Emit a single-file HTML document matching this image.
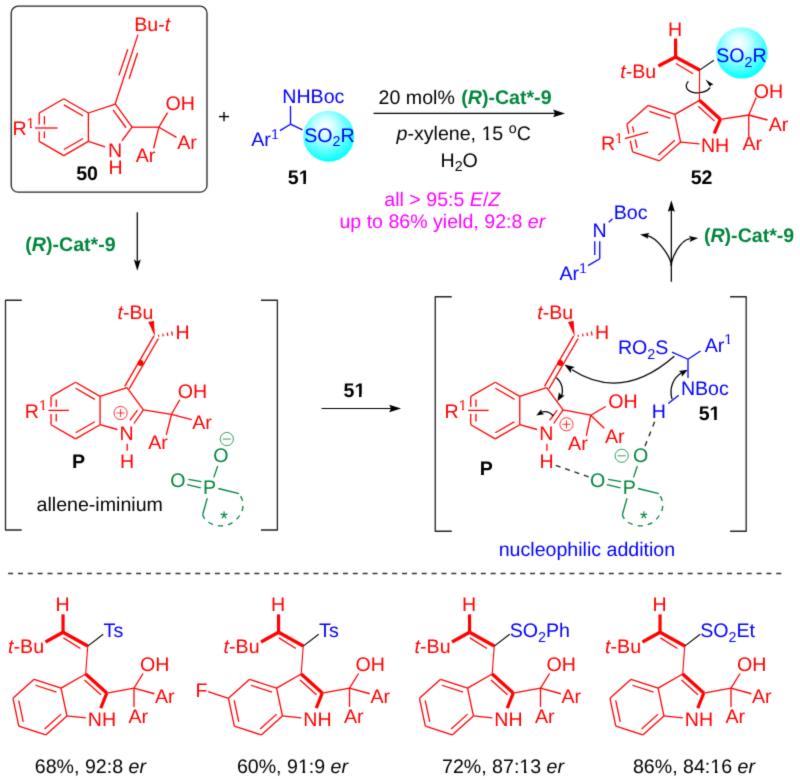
<!DOCTYPE html>
<html><head><meta charset="utf-8"><style>
html,body{margin:0;padding:0;background:#fff;}
svg{display:block;font-family:"Liberation Sans",sans-serif;text-rendering:geometricPrecision;}
</style></head><body>
<svg width="800" height="784" viewBox="0 0 800 784"><defs><filter id="soft" filterUnits="userSpaceOnUse" x="0" y="0" width="800" height="784" color-interpolation-filters="sRGB"><feConvolveMatrix order="3" kernelMatrix="0.0144 0.0912 0.0144 0.0912 0.5776 0.0912 0.0144 0.0912 0.0144" edgeMode="none" preserveAlpha="false"/></filter></defs><g style="will-change:transform" filter="url(#soft)">
<rect x="11.2" y="6.2" width="195.8" height="186" rx="7" fill="none" stroke="#222" stroke-width="1.3"/>
<line x1="63.80" y1="98.80" x2="88.40" y2="113.00" stroke="#ff0000" stroke-width="1.3"/>
<line x1="63.89" y1="104.85" x2="83.12" y2="115.95" stroke="#ff0000" stroke-width="1.3"/>
<line x1="88.40" y1="113.00" x2="88.40" y2="141.40" stroke="#ff0000" stroke-width="1.3"/>
<line x1="88.40" y1="141.40" x2="63.80" y2="155.60" stroke="#ff0000" stroke-width="1.3"/>
<line x1="83.12" y1="138.45" x2="63.89" y2="149.55" stroke="#ff0000" stroke-width="1.3"/>
<line x1="63.80" y1="155.60" x2="39.21" y2="141.40" stroke="#ff0000" stroke-width="1.3"/>
<line x1="39.21" y1="141.40" x2="39.21" y2="113.00" stroke="#ff0000" stroke-width="1.3"/>
<line x1="44.41" y1="138.30" x2="44.41" y2="116.10" stroke="#ff0000" stroke-width="1.3"/>
<line x1="39.21" y1="113.00" x2="63.80" y2="98.80" stroke="#ff0000" stroke-width="1.3"/>
<line x1="35" y1="128" x2="57.5" y2="128" stroke="#fff" stroke-width="7"/>
<line x1="35.00" y1="128.00" x2="57.50" y2="128.00" stroke="#ff0000" stroke-width="1.3"/>
<line x1="88.40" y1="113.00" x2="115.41" y2="104.22" stroke="#f00" stroke-width="1.3"/>
<line x1="115.41" y1="104.22" x2="132.10" y2="127.20" stroke="#f00" stroke-width="1.3"/>
<line x1="113.03" y1="109.79" x2="126.07" y2="127.75" stroke="#f00" stroke-width="1.3"/>
<line x1="132.10" y1="127.20" x2="121.93" y2="140.75" stroke="#f00" stroke-width="1.3"/>
<line x1="88.40" y1="141.40" x2="105.11" y2="146.89" stroke="#f00" stroke-width="1.3"/>
<text x="108.00" y="156.80" fill="#ff0000" font-size="19.6"><tspan>N</tspan></text>
<text x="108.40" y="173.70" fill="#ff0000" font-size="19.6"><tspan>H</tspan></text>
<line x1="115.05" y1="104.30" x2="138.00" y2="34.60" stroke="#ff0000" stroke-width="1.3"/>
<line x1="118.90" y1="75.40" x2="127.80" y2="49.20" stroke="#ff0000" stroke-width="1.3"/>
<line x1="129.10" y1="78.80" x2="137.60" y2="52.70" stroke="#ff0000" stroke-width="1.3"/>
<text x="134.30" y="31.00" fill="#ff0000" font-size="19.6"><tspan>Bu-</tspan><tspan font-style="italic">t</tspan></text>
<line x1="131.90" y1="127.20" x2="158.90" y2="127.20" stroke="#ff0000" stroke-width="1.3"/>
<line x1="158.90" y1="127.20" x2="167.60" y2="112.70" stroke="#ff0000" stroke-width="1.3"/>
<line x1="158.90" y1="127.20" x2="176.50" y2="137.40" stroke="#ff0000" stroke-width="1.3"/>
<line x1="158.90" y1="127.20" x2="153.60" y2="148.40" stroke="#ff0000" stroke-width="1.3"/>
<text x="165.40" y="109.50" fill="#ff0000" font-size="19.6"><tspan>OH</tspan></text>
<text x="177.20" y="148.80" fill="#ff0000" font-size="19.6"><tspan>Ar</tspan></text>
<text x="135.70" y="161.80" fill="#ff0000" font-size="19.6"><tspan>Ar</tspan></text>
<text x="12.40" y="135.30" fill="#ff0000" font-size="19.6"><tspan>R</tspan><tspan font-size="14.3" dy="-7.40">1</tspan></text>
<text x="76.20" y="179.80" fill="#000" font-size="19.6"><tspan font-weight="bold">50</tspan></text>
<line x1="219.00" y1="116.60" x2="229.00" y2="116.60" stroke="#000" stroke-width="1.4"/>
<line x1="224.00" y1="111.90" x2="224.00" y2="121.30" stroke="#000" stroke-width="1.4"/>
<defs>
<radialGradient id="sph" cx="0.45" cy="0.38" r="0.62" fx="0.43" fy="0.3">
<stop offset="0" stop-color="#ffffff"/><stop offset="0.3" stop-color="#d0ffff"/><stop offset="0.75" stop-color="#50ffff"/><stop offset="1" stop-color="#00ffff"/>
</radialGradient></defs>
<circle cx="328.7" cy="136.3" r="25.5" fill="url(#sph)"/>
<line x1="290.50" y1="124.20" x2="290.50" y2="106.00" stroke="#0000ff" stroke-width="1.3"/>
<line x1="290.50" y1="124.20" x2="280.00" y2="130.60" stroke="#0000ff" stroke-width="1.3"/>
<line x1="290.50" y1="124.20" x2="302.50" y2="129.90" stroke="#0000ff" stroke-width="1.3"/>
<text x="282.30" y="103.00" fill="#0000ff" font-size="19.6"><tspan>NHBoc</tspan></text>
<text x="251.30" y="145.90" fill="#0000ff" font-size="19.6"><tspan>Ar</tspan><tspan font-size="14.3" dy="-7.40">1</tspan></text>
<text x="304.20" y="141.80" fill="#0000ff" font-size="19.6"><tspan>SO</tspan><tspan font-size="14.3" dy="4.60">2</tspan><tspan dy="-4.60">R</tspan></text>
<text x="287.80" y="184.00" fill="#000" font-size="19.6"><tspan font-weight="bold">51</tspan></text>
<line x1="373.50" y1="113.40" x2="556.00" y2="113.40" stroke="#000" stroke-width="1.2"/>
<polygon points="565.00,113.40 553.10,109.50 555.00,113.40 553.10,117.30" fill="#000"/>
<text x="378.60" y="104.00" fill="#000" font-size="19.6"><tspan>20 mol% </tspan></text>

<text x="461.20" y="104" fill="#00853d" font-size="19.6" font-weight="bold">(<tspan font-style="italic">R</tspan>)-Cat*-9</text>
<text x="396.50" y="140.10" fill="#000" font-size="19.6"><tspan font-style="italic">p</tspan><tspan>-xylene, 15 </tspan><tspan font-size="14.3" dy="-7.40">o</tspan><tspan dy="7.40">C</tspan></text>
<text x="440.50" y="166.80" fill="#000" font-size="19.6"><tspan>H</tspan><tspan font-size="14.3" dy="4.60">2</tspan><tspan dy="-4.60">O</tspan></text>
<text x="384.30" y="206.20" fill="#ff00ff" font-size="19.6"><tspan>all &gt; 95:5 </tspan><tspan font-style="italic">E</tspan><tspan>/</tspan><tspan font-style="italic">Z</tspan></text>
<text x="339.40" y="227.50" fill="#ff00ff" font-size="19.6"><tspan>up to 86% yield, 92:8 </tspan><tspan font-style="italic">er</tspan></text>
<circle cx="741.8" cy="52.9" r="25.7" fill="url(#sph)"/>
<line x1="648.00" y1="105.45" x2="674.87" y2="114.34" stroke="#ff0000" stroke-width="1.3"/>
<line x1="649.31" y1="111.36" x2="670.29" y2="118.30" stroke="#ff0000" stroke-width="1.3"/>
<line x1="674.87" y1="114.34" x2="680.61" y2="142.05" stroke="#ff0000" stroke-width="1.3"/>
<line x1="680.61" y1="142.05" x2="659.48" y2="160.88" stroke="#ff0000" stroke-width="1.3"/>
<line x1="674.84" y1="140.23" x2="658.33" y2="154.93" stroke="#ff0000" stroke-width="1.3"/>
<line x1="659.48" y1="160.88" x2="632.61" y2="151.99" stroke="#ff0000" stroke-width="1.3"/>
<line x1="632.61" y1="151.99" x2="626.87" y2="124.28" stroke="#ff0000" stroke-width="1.3"/>
<line x1="637.07" y1="147.90" x2="632.59" y2="126.26" stroke="#ff0000" stroke-width="1.3"/>
<line x1="626.87" y1="124.28" x2="648.00" y2="105.45" stroke="#ff0000" stroke-width="1.3"/>
<line x1="624.8" y1="138.7" x2="648.2" y2="132.1" stroke="#fff" stroke-width="7"/>
<line x1="624.80" y1="138.70" x2="648.20" y2="132.10" stroke="#ff0000" stroke-width="1.3"/>
<line x1="674.87" y1="114.34" x2="699.45" y2="100.32" stroke="#f00" stroke-width="1.3"/>
<line x1="699.45" y1="100.32" x2="720.38" y2="119.36" stroke="#ff0000" stroke-width="3.4"/>
<line x1="698.25" y1="106.25" x2="714.59" y2="121.12" stroke="#f00" stroke-width="1.3"/>
<line x1="720.38" y1="119.36" x2="714.20" y2="133.50" stroke="#ff0000" stroke-width="3.2"/>
<line x1="680.61" y1="142.05" x2="699.50" y2="143.80" stroke="#ff0000" stroke-width="1.3"/>
<text x="700.90" y="152.00" fill="#ff0000" font-size="19.6"><tspan>NH</tspan></text>
<text x="600.90" y="150.20" fill="#ff0000" font-size="19.6"><tspan>R</tspan><tspan font-size="14.3" dy="-7.40">1</tspan></text>
<line x1="720.38" y1="119.36" x2="748.75" y2="115.00" stroke="#ff0000" stroke-width="1.3"/>
<line x1="748.75" y1="115.00" x2="756.25" y2="97.50" stroke="#ff0000" stroke-width="1.3"/>
<line x1="748.75" y1="115.00" x2="767.50" y2="120.00" stroke="#ff0000" stroke-width="1.3"/>
<line x1="748.75" y1="115.00" x2="748.75" y2="136.25" stroke="#ff0000" stroke-width="1.3"/>
<text x="753.70" y="97.90" fill="#ff0000" font-size="19.6"><tspan>OH</tspan></text>
<text x="768.75" y="130.50" fill="#ff0000" font-size="19.6"><tspan>Ar</tspan></text>
<text x="742.50" y="150.30" fill="#ff0000" font-size="19.6"><tspan>Ar</tspan></text>
<path d="M688.4,81.3 C684.5,85.5 686,90.5 693,92.3 C699,93.8 707,92 710.2,87.6" fill="none" stroke="#000" stroke-width="1.2"/>
<polygon points="705.50,79.50 713.40,84.40 710.90,85.20 710.10,86.90" fill="#000"/>
<line x1="699.60" y1="70.10" x2="699.45" y2="100.32" stroke="#ff0000" stroke-width="1.1"/>
<line x1="675.60" y1="57.10" x2="699.60" y2="70.10" stroke="#ff0000" stroke-width="3.4"/>
<line x1="676.00" y1="63.50" x2="693.10" y2="73.70" stroke="#ff0000" stroke-width="1.3"/>
<line x1="675.60" y1="57.10" x2="675.60" y2="38.60" stroke="#ff0000" stroke-width="3.2"/>
<line x1="675.60" y1="57.10" x2="658.40" y2="66.00" stroke="#ff0000" stroke-width="3.4"/>
<line x1="699.60" y1="70.10" x2="713.90" y2="60.30" stroke="#000" stroke-width="1.1"/>
<text x="668.00" y="35.60" fill="#ff0000" font-size="19.6"><tspan>H</tspan></text>
<text x="620.30" y="77.60" fill="#ff0000" font-size="19.6"><tspan font-style="italic">t</tspan><tspan>-Bu</tspan></text>
<text x="716.30" y="61.90" fill="#0000ff" font-size="19.6"><tspan>SO</tspan><tspan font-size="14.3" dy="4.60">2</tspan><tspan dy="-4.60">R</tspan></text>
<text x="690.65" y="184.00" fill="#000" font-size="19.6"><tspan font-weight="bold">52</tspan></text>
<line x1="137.30" y1="212.20" x2="137.30" y2="262.00" stroke="#000" stroke-width="1.25"/>
<polygon points="137.30,270.70 133.80,259.30 137.30,261.75 140.80,259.30" fill="#000"/>
<text x="25.30" y="250.6" fill="#00853d" font-size="19.6" font-weight="bold">(<tspan font-style="italic">R</tspan>)-Cat*-9</text>
<path d="M21.75,300.25 H5.5 V530 H21.75" fill="none" stroke="#222" stroke-width="1.3" stroke-linejoin="round"/>
<path d="M261.0,300.25 H277.4 V530 H261.0" fill="none" stroke="#222" stroke-width="1.3" stroke-linejoin="round"/>
<line x1="75.55" y1="382.25" x2="100.06" y2="396.40" stroke="#ff0000" stroke-width="1.3"/>
<line x1="75.64" y1="388.30" x2="94.78" y2="399.35" stroke="#ff0000" stroke-width="1.3"/>
<line x1="100.06" y1="396.40" x2="100.06" y2="424.70" stroke="#ff0000" stroke-width="1.3"/>
<line x1="100.06" y1="424.70" x2="75.55" y2="438.85" stroke="#ff0000" stroke-width="1.3"/>
<line x1="94.78" y1="421.75" x2="75.64" y2="432.80" stroke="#ff0000" stroke-width="1.3"/>
<line x1="75.55" y1="438.85" x2="51.04" y2="424.70" stroke="#ff0000" stroke-width="1.3"/>
<line x1="51.04" y1="424.70" x2="51.04" y2="396.40" stroke="#ff0000" stroke-width="1.3"/>
<line x1="56.24" y1="421.60" x2="56.24" y2="399.50" stroke="#ff0000" stroke-width="1.3"/>
<line x1="51.04" y1="396.40" x2="75.55" y2="382.25" stroke="#ff0000" stroke-width="1.3"/>
<line x1="48.5" y1="410.4" x2="68.9" y2="410.4" stroke="#fff" stroke-width="7"/>
<line x1="48.50" y1="410.40" x2="68.90" y2="410.40" stroke="#ff0000" stroke-width="1.3"/>
<line x1="100.06" y1="396.40" x2="126.97" y2="387.65" stroke="#f00" stroke-width="1.3"/>
<line x1="143.40" y1="409.95" x2="134.00" y2="423.50" stroke="#ff0000" stroke-width="1.3"/>
<line x1="137.55" y1="410.20" x2="129.90" y2="420.40" stroke="#ff0000" stroke-width="1.3"/>
<line x1="100.06" y1="424.70" x2="117.40" y2="429.50" stroke="#ff0000" stroke-width="1.3"/>
<line x1="126.97" y1="387.65" x2="143.40" y2="409.95" stroke="#ff0000" stroke-width="1.3"/>
<text x="119.60" y="439.80" fill="#ff0000" font-size="19.6"><tspan>N</tspan></text>
<line x1="127.20" y1="443.70" x2="127.20" y2="450.75" stroke="#ff0000" stroke-width="1.3"/>
<text x="119.90" y="467.70" fill="#ff0000" font-size="19.6"><tspan>H</tspan></text>
<line x1="129.18" y1="388.93" x2="158.41" y2="338.48" stroke="#ff0000" stroke-width="1.3"/>
<line x1="124.77" y1="386.38" x2="153.99" y2="335.92" stroke="#ff0000" stroke-width="1.3"/>
<circle cx="140.60" cy="363.00" r="2.9" fill="#ff0000"/>
<polygon points="155.00,336.50 148.30,322.00 153.90,320.80" fill="#ff0000"/>
<line x1="158.74" y1="336.77" x2="158.42" y2="334.96" stroke="#ff0000" stroke-width="1.2"/>
<line x1="163.29" y1="336.37" x2="162.84" y2="333.77" stroke="#ff0000" stroke-width="1.2"/>
<line x1="167.84" y1="335.98" x2="167.25" y2="332.59" stroke="#ff0000" stroke-width="1.2"/>
<line x1="172.40" y1="335.58" x2="171.66" y2="331.40" stroke="#ff0000" stroke-width="1.2"/>
<text x="117.50" y="318.90" fill="#ff0000" font-size="19.6"><tspan font-style="italic">t</tspan><tspan>-Bu</tspan></text>
<text x="175.40" y="338.70" fill="#ff0000" font-size="19.6"><tspan>H</tspan></text>
<text x="24.80" y="417.80" fill="#ff0000" font-size="19.6"><tspan>R</tspan><tspan font-size="14.3" dy="-7.40">1</tspan></text>
<text x="213.25" y="462.30" fill="#00853d" font-size="19.6"><tspan>O</tspan></text>
<text x="203.10" y="494.20" fill="#00853d" font-size="19.6"><tspan>P</tspan></text>
<text x="170.30" y="486.50" fill="#00853d" font-size="19.6"><tspan>O</tspan></text>
<line x1="217.70" y1="466.00" x2="213.80" y2="477.40" stroke="#00853d" stroke-width="1.3"/>
<line x1="188.40" y1="479.40" x2="201.40" y2="481.60" stroke="#00853d" stroke-width="1.3"/>
<line x1="187.10" y1="484.60" x2="200.80" y2="487.80" stroke="#00853d" stroke-width="1.3"/>
<line x1="218.30" y1="488.50" x2="239.10" y2="493.70" stroke="#00853d" stroke-width="1.3"/>
<line x1="207.30" y1="498.20" x2="202.70" y2="514.50" stroke="#00853d" stroke-width="1.3"/>
<path d="M202.70,514.30 C203.80,521.50 212.50,525.60 221.00,525.90 C232.00,525.80 240.00,518.00 242.60,509.00 C243.80,503.00 242.00,497.50 239.30,494.30" fill="none" stroke="#00853d" stroke-width="1.35" stroke-dasharray="5 5.1"/>
<text x="220.30" y="524.50" fill="#00853d" font-size="19.6">*</text>
<text x="72.10" y="467.80" fill="#000" font-size="19.6"><tspan font-weight="bold">P</tspan></text>
<circle cx="120.6" cy="413" r="6.6" fill="none" stroke="#ff0000" stroke-width="0.8"/>
<line x1="116.60" y1="413.00" x2="124.60" y2="413.00" stroke="#ff0000" stroke-width="0.8"/>
<line x1="120.60" y1="409.00" x2="120.60" y2="417.00" stroke="#ff0000" stroke-width="0.8"/>
<circle cx="226.8" cy="439.05" r="6.6" fill="none" stroke="#00853d" stroke-width="0.8"/>
<line x1="222.80" y1="439.05" x2="230.80" y2="439.05" stroke="#00853d" stroke-width="0.8"/>
<line x1="143.40" y1="409.95" x2="171.50" y2="414.30" stroke="#ff0000" stroke-width="1.3"/>
<line x1="171.50" y1="414.30" x2="179.75" y2="399.75" stroke="#ff0000" stroke-width="1.3"/>
<line x1="171.50" y1="414.30" x2="191.75" y2="419.70" stroke="#ff0000" stroke-width="1.3"/>
<line x1="171.50" y1="414.30" x2="166.25" y2="435.00" stroke="#ff0000" stroke-width="1.3"/>
<text x="177.80" y="397.80" fill="#ff0000" font-size="19.6"><tspan>OH</tspan></text>
<text x="192.20" y="428.50" fill="#ff0000" font-size="19.6"><tspan>Ar</tspan></text>
<text x="148.25" y="448.80" fill="#ff0000" font-size="19.6"><tspan>Ar</tspan></text>
<text x="36.55" y="510.90" fill="#000" font-size="19.6"><tspan>allene-iminium</tspan></text>
<line x1="321.50" y1="408.50" x2="392.00" y2="408.50" stroke="#000" stroke-width="1.2"/>
<polygon points="401.10,408.50 389.20,404.70 391.00,408.50 389.20,412.30" fill="#000"/>
<text x="343.50" y="396.90" fill="#000" font-size="19.6"><tspan font-weight="bold">51</tspan></text>
<path d="M451.75,296.75 H435.25 V531.25 H451.75" fill="none" stroke="#222" stroke-width="1.3" stroke-linejoin="round"/>
<path d="M730.1,296.75 H746.2 V531.25 H730.1" fill="none" stroke="#222" stroke-width="1.3" stroke-linejoin="round"/>
<line x1="495.25" y1="382.25" x2="519.76" y2="396.40" stroke="#ff0000" stroke-width="1.3"/>
<line x1="495.34" y1="388.30" x2="514.48" y2="399.35" stroke="#ff0000" stroke-width="1.3"/>
<line x1="519.76" y1="396.40" x2="519.76" y2="424.70" stroke="#ff0000" stroke-width="1.3"/>
<line x1="519.76" y1="424.70" x2="495.25" y2="438.85" stroke="#ff0000" stroke-width="1.3"/>
<line x1="514.48" y1="421.75" x2="495.34" y2="432.80" stroke="#ff0000" stroke-width="1.3"/>
<line x1="495.25" y1="438.85" x2="470.74" y2="424.70" stroke="#ff0000" stroke-width="1.3"/>
<line x1="470.74" y1="424.70" x2="470.74" y2="396.40" stroke="#ff0000" stroke-width="1.3"/>
<line x1="475.94" y1="421.60" x2="475.94" y2="399.50" stroke="#ff0000" stroke-width="1.3"/>
<line x1="470.74" y1="396.40" x2="495.25" y2="382.25" stroke="#ff0000" stroke-width="1.3"/>
<line x1="468.2" y1="410.4" x2="488.6" y2="410.4" stroke="#fff" stroke-width="7"/>
<line x1="468.20" y1="410.40" x2="488.60" y2="410.40" stroke="#ff0000" stroke-width="1.3"/>
<line x1="519.76" y1="396.40" x2="546.67" y2="387.65" stroke="#f00" stroke-width="1.3"/>
<line x1="563.10" y1="409.95" x2="553.70" y2="423.50" stroke="#ff0000" stroke-width="1.3"/>
<line x1="557.25" y1="410.20" x2="549.60" y2="420.40" stroke="#ff0000" stroke-width="1.3"/>
<line x1="519.76" y1="424.70" x2="537.10" y2="429.50" stroke="#ff0000" stroke-width="1.3"/>
<line x1="546.67" y1="387.65" x2="563.10" y2="409.95" stroke="#ff0000" stroke-width="1.3"/>
<text x="539.30" y="439.80" fill="#ff0000" font-size="19.6"><tspan>N</tspan></text>
<line x1="546.90" y1="443.70" x2="546.90" y2="450.75" stroke="#ff0000" stroke-width="1.3"/>
<text x="539.60" y="467.70" fill="#ff0000" font-size="19.6"><tspan>H</tspan></text>
<line x1="548.88" y1="388.93" x2="578.11" y2="338.48" stroke="#ff0000" stroke-width="1.3"/>
<line x1="544.47" y1="386.38" x2="573.69" y2="335.92" stroke="#ff0000" stroke-width="1.3"/>
<circle cx="560.30" cy="363.00" r="2.9" fill="#ff0000"/>
<polygon points="574.70,336.50 568.00,322.00 573.60,320.80" fill="#ff0000"/>
<line x1="578.44" y1="336.77" x2="578.12" y2="334.96" stroke="#ff0000" stroke-width="1.2"/>
<line x1="582.99" y1="336.37" x2="582.54" y2="333.77" stroke="#ff0000" stroke-width="1.2"/>
<line x1="587.54" y1="335.98" x2="586.95" y2="332.59" stroke="#ff0000" stroke-width="1.2"/>
<line x1="592.10" y1="335.58" x2="591.36" y2="331.40" stroke="#ff0000" stroke-width="1.2"/>
<text x="537.20" y="318.90" fill="#ff0000" font-size="19.6"><tspan font-style="italic">t</tspan><tspan>-Bu</tspan></text>
<text x="595.10" y="338.70" fill="#ff0000" font-size="19.6"><tspan>H</tspan></text>
<text x="444.50" y="417.80" fill="#ff0000" font-size="19.6"><tspan>R</tspan><tspan font-size="14.3" dy="-7.40">1</tspan></text>
<text x="632.95" y="462.30" fill="#00853d" font-size="19.6"><tspan>O</tspan></text>
<text x="622.80" y="494.20" fill="#00853d" font-size="19.6"><tspan>P</tspan></text>
<text x="590.00" y="486.50" fill="#00853d" font-size="19.6"><tspan>O</tspan></text>
<line x1="637.40" y1="466.00" x2="633.50" y2="477.40" stroke="#00853d" stroke-width="1.3"/>
<line x1="608.10" y1="479.40" x2="621.10" y2="481.60" stroke="#00853d" stroke-width="1.3"/>
<line x1="606.80" y1="484.60" x2="620.50" y2="487.80" stroke="#00853d" stroke-width="1.3"/>
<line x1="638.00" y1="488.50" x2="658.80" y2="493.70" stroke="#00853d" stroke-width="1.3"/>
<line x1="627.00" y1="498.20" x2="622.40" y2="514.50" stroke="#00853d" stroke-width="1.3"/>
<path d="M622.40,514.30 C623.50,521.50 632.20,525.60 640.70,525.90 C651.70,525.80 659.70,518.00 662.30,509.00 C663.50,503.00 661.70,497.50 659.00,494.30" fill="none" stroke="#00853d" stroke-width="1.35" stroke-dasharray="5 5.1"/>
<text x="640.00" y="524.50" fill="#00853d" font-size="19.6">*</text>
<text x="479.80" y="475.00" fill="#000" font-size="19.6"><tspan font-weight="bold">P</tspan></text>
<circle cx="566.5" cy="424.3" r="6.6" fill="none" stroke="#ff0000" stroke-width="0.8"/>
<line x1="562.50" y1="424.30" x2="570.50" y2="424.30" stroke="#ff0000" stroke-width="0.8"/>
<line x1="566.50" y1="420.30" x2="566.50" y2="428.30" stroke="#ff0000" stroke-width="0.8"/>
<circle cx="621.7" cy="455.8" r="6.6" fill="none" stroke="#00853d" stroke-width="0.8"/>
<line x1="617.70" y1="455.80" x2="625.70" y2="455.80" stroke="#00853d" stroke-width="0.8"/>
<line x1="563.10" y1="409.95" x2="590.75" y2="415.20" stroke="#ff0000" stroke-width="1.3"/>
<line x1="590.75" y1="415.20" x2="605.75" y2="406.50" stroke="#ff0000" stroke-width="1.3"/>
<line x1="590.75" y1="415.20" x2="604.25" y2="428.25" stroke="#ff0000" stroke-width="1.3"/>
<line x1="590.75" y1="415.20" x2="586.25" y2="435.75" stroke="#ff0000" stroke-width="1.3"/>
<text x="608.30" y="407.90" fill="#ff0000" font-size="19.6"><tspan>OH</tspan></text>
<text x="604.90" y="442.50" fill="#ff0000" font-size="19.6"><tspan>Ar</tspan></text>
<text x="568.10" y="449.50" fill="#ff0000" font-size="19.6"><tspan>Ar</tspan></text>
<line x1="672.00" y1="352.20" x2="688.00" y2="359.25" stroke="#0000ff" stroke-width="1.3"/>
<line x1="688.00" y1="359.25" x2="700.50" y2="351.00" stroke="#0000ff" stroke-width="1.3"/>
<line x1="688.00" y1="359.25" x2="688.00" y2="378.00" stroke="#0000ff" stroke-width="1.3"/>
<line x1="678.75" y1="395.25" x2="668.25" y2="403.50" stroke="#0000ff" stroke-width="1.3"/>
<text x="617.90" y="354.10" fill="#0000ff" font-size="19.6"><tspan>RO</tspan><tspan font-size="14.3" dy="4.60">2</tspan><tspan dy="-4.60">S</tspan></text>
<text x="704.70" y="351.60" fill="#0000ff" font-size="19.6"><tspan>Ar</tspan><tspan font-size="14.3" dy="-7.40">1</tspan></text>
<text x="680.90" y="394.90" fill="#0000ff" font-size="19.6"><tspan>NBoc</tspan></text>
<text x="651.65" y="417.70" fill="#0000ff" font-size="19.6"><tspan>H</tspan></text>
<text x="698.70" y="420.10" fill="#000" font-size="19.6"><tspan font-weight="bold">51</tspan></text>
<line x1="555.8" y1="465.4" x2="589.2" y2="477.0" stroke="#222" stroke-width="1.35" stroke-dasharray="5 4.9"/>
<line x1="654.6" y1="421.8" x2="644.3" y2="448" stroke="#222" stroke-width="1.35" stroke-dasharray="5 5.5"/>
<path d="M674.3,356.3 Q622,402 572,369.8" fill="none" stroke="#000" stroke-width="1.3"/>
<polygon points="564.40,364.50 574.73,367.00 571.24,369.02 570.76,373.01" fill="#000"/>
<path d="M672,399 C669,388 673,378 682,372.5" fill="none" stroke="#000" stroke-width="1.3"/>
<polygon points="687.75,369.75 681.84,376.65 681.62,373.12 678.76,371.04" fill="#000"/>
<path d="M556.3,377.7 C562,382 564,391 561,396.5" fill="none" stroke="#000" stroke-width="1.3"/>
<polygon points="557.40,401.20 558.94,392.21 561.00,395.20 564.60,395.61" fill="#000"/>
<path d="M553.2,416 C550,412 546,410.8 541,412.3" fill="none" stroke="#000" stroke-width="1.3"/>
<polygon points="536.30,415.60 541.19,409.17 541.62,412.41 544.27,414.31" fill="#000"/>
<text x="498.70" y="556.10" fill="#0000ff" font-size="19.6"><tspan>nucleophilic addition</tspan></text>
<line x1="599.75" y1="241.25" x2="599.75" y2="258.75" stroke="#0000ff" stroke-width="1.3"/>
<line x1="594.75" y1="241.25" x2="594.75" y2="255.00" stroke="#0000ff" stroke-width="1.3"/>
<line x1="608.75" y1="222.25" x2="612.50" y2="218.75" stroke="#0000ff" stroke-width="1.3"/>
<line x1="599.75" y1="258.75" x2="588.10" y2="265.60" stroke="#0000ff" stroke-width="1.3"/>
<text x="613.80" y="218.50" fill="#0000ff" font-size="19.6"><tspan>Boc</tspan></text>
<text x="592.40" y="237.40" fill="#0000ff" font-size="19.6"><tspan>N</tspan></text>
<text x="559.40" y="279.90" fill="#0000ff" font-size="19.6"><tspan>Ar</tspan><tspan font-size="14.3" dy="-7.40">1</tspan></text>
<line x1="671.35" y1="281.80" x2="671.35" y2="209.00" stroke="#000" stroke-width="1.25"/>
<polygon points="671.35,200.20 667.85,211.70 671.35,210.20 674.85,211.70" fill="#000"/>
<path d="M671.35,266 C671.35,258 658,237.2 646,235.4" fill="none" stroke="#000" stroke-width="1.3"/>
<polygon points="640.00,234.40 649.38,232.95 647.39,235.66 648.37,238.87" fill="#000"/>
<path d="M671.35,266 C671.35,258 680,240.2 690,238.6" fill="none" stroke="#000" stroke-width="1.3"/>
<polygon points="698.20,238.00 689.62,242.05 690.75,238.89 688.91,236.09" fill="#000"/>
<text x="703.90" y="242.4" fill="#00853d" font-size="19.6" font-weight="bold">(<tspan font-style="italic">R</tspan>)-Cat*-9</text>
<line x1="8.1" y1="573.5" x2="781.5" y2="573.5" stroke="#333" stroke-width="1.5" stroke-dasharray="5 4.848"/>
<line x1="34.09" y1="679.34" x2="61.08" y2="688.16" stroke="#ff0000" stroke-width="1.3"/>
<line x1="35.43" y1="685.25" x2="56.52" y2="692.14" stroke="#ff0000" stroke-width="1.3"/>
<line x1="61.08" y1="688.16" x2="66.93" y2="715.94" stroke="#ff0000" stroke-width="1.3"/>
<line x1="66.93" y1="715.94" x2="45.80" y2="734.90" stroke="#ff0000" stroke-width="1.3"/>
<line x1="61.15" y1="714.14" x2="44.64" y2="728.96" stroke="#ff0000" stroke-width="1.3"/>
<line x1="45.80" y1="734.90" x2="18.82" y2="726.08" stroke="#ff0000" stroke-width="1.3"/>
<line x1="18.82" y1="726.08" x2="12.96" y2="698.30" stroke="#ff0000" stroke-width="1.3"/>
<line x1="23.27" y1="721.97" x2="18.69" y2="700.26" stroke="#ff0000" stroke-width="1.3"/>
<line x1="12.96" y1="698.30" x2="34.09" y2="679.34" stroke="#ff0000" stroke-width="1.3"/>
<line x1="61.08" y1="688.16" x2="85.69" y2="674.01" stroke="#f00" stroke-width="1.3"/>
<line x1="85.69" y1="674.01" x2="106.76" y2="693.04" stroke="#ff0000" stroke-width="3.4"/>
<line x1="84.51" y1="679.94" x2="100.97" y2="694.82" stroke="#f00" stroke-width="1.3"/>
<line x1="106.76" y1="693.04" x2="100.75" y2="708.10" stroke="#ff0000" stroke-width="3.2"/>
<line x1="66.93" y1="715.94" x2="85.80" y2="717.80" stroke="#ff0000" stroke-width="1.3"/>
<text x="87.80" y="725.80" fill="#ff0000" font-size="19.6"><tspan>NH</tspan></text>
<line x1="106.76" y1="693.04" x2="134.00" y2="688.10" stroke="#ff0000" stroke-width="1.3"/>
<line x1="134.00" y1="688.10" x2="143.10" y2="673.50" stroke="#ff0000" stroke-width="1.3"/>
<line x1="134.00" y1="688.10" x2="154.40" y2="693.75" stroke="#ff0000" stroke-width="1.3"/>
<line x1="134.00" y1="688.10" x2="134.00" y2="706.90" stroke="#ff0000" stroke-width="1.3"/>
<text x="140.10" y="670.90" fill="#ff0000" font-size="19.6"><tspan>OH</tspan></text>
<text x="155.00" y="702.80" fill="#ff0000" font-size="19.6"><tspan>Ar</tspan></text>
<text x="128.50" y="722.90" fill="#ff0000" font-size="19.6"><tspan>Ar</tspan></text>
<line x1="87.75" y1="646.10" x2="85.69" y2="674.01" stroke="#ff0000" stroke-width="1.1"/>
<line x1="63.05" y1="632.25" x2="87.75" y2="646.10" stroke="#ff0000" stroke-width="3.4"/>
<line x1="63.40" y1="637.90" x2="80.40" y2="648.50" stroke="#ff0000" stroke-width="1.3"/>
<line x1="63.05" y1="632.25" x2="63.05" y2="614.40" stroke="#ff0000" stroke-width="3.2"/>
<line x1="63.05" y1="632.25" x2="45.50" y2="642.00" stroke="#ff0000" stroke-width="3.4"/>
<line x1="87.75" y1="646.10" x2="103.20" y2="634.20" stroke="#000" stroke-width="1.1"/>
<text x="55.60" y="610.60" fill="#ff0000" font-size="19.6"><tspan>H</tspan></text>
<text x="8.10" y="652.50" fill="#ff0000" font-size="19.6"><tspan font-style="italic">t</tspan><tspan>-Bu</tspan></text>
<text x="103.60" y="637.00" fill="#0000ff" font-size="19.6"><tspan>Ts</tspan></text>
<text x="34.80" y="773.00" fill="#000" font-size="19.6"><tspan>68%, 92:8 </tspan><tspan font-style="italic">er</tspan></text>
<line x1="249.59" y1="679.34" x2="276.58" y2="688.16" stroke="#ff0000" stroke-width="1.3"/>
<line x1="250.93" y1="685.25" x2="272.02" y2="692.14" stroke="#ff0000" stroke-width="1.3"/>
<line x1="276.58" y1="688.16" x2="282.43" y2="715.94" stroke="#ff0000" stroke-width="1.3"/>
<line x1="282.43" y1="715.94" x2="261.30" y2="734.90" stroke="#ff0000" stroke-width="1.3"/>
<line x1="276.65" y1="714.14" x2="260.14" y2="728.96" stroke="#ff0000" stroke-width="1.3"/>
<line x1="261.30" y1="734.90" x2="234.32" y2="726.08" stroke="#ff0000" stroke-width="1.3"/>
<line x1="234.32" y1="726.08" x2="228.46" y2="698.30" stroke="#ff0000" stroke-width="1.3"/>
<line x1="238.77" y1="721.97" x2="234.19" y2="700.26" stroke="#ff0000" stroke-width="1.3"/>
<line x1="228.46" y1="698.30" x2="249.59" y2="679.34" stroke="#ff0000" stroke-width="1.3"/>
<line x1="276.58" y1="688.16" x2="301.19" y2="674.01" stroke="#f00" stroke-width="1.3"/>
<line x1="301.19" y1="674.01" x2="322.26" y2="693.04" stroke="#ff0000" stroke-width="3.4"/>
<line x1="300.01" y1="679.94" x2="316.47" y2="694.82" stroke="#f00" stroke-width="1.3"/>
<line x1="322.26" y1="693.04" x2="316.25" y2="708.10" stroke="#ff0000" stroke-width="3.2"/>
<line x1="282.43" y1="715.94" x2="301.30" y2="717.80" stroke="#ff0000" stroke-width="1.3"/>
<text x="303.30" y="725.80" fill="#ff0000" font-size="19.6"><tspan>NH</tspan></text>
<line x1="322.26" y1="693.04" x2="349.50" y2="688.10" stroke="#ff0000" stroke-width="1.3"/>
<line x1="349.50" y1="688.10" x2="358.60" y2="673.50" stroke="#ff0000" stroke-width="1.3"/>
<line x1="349.50" y1="688.10" x2="369.90" y2="693.75" stroke="#ff0000" stroke-width="1.3"/>
<line x1="349.50" y1="688.10" x2="349.50" y2="706.90" stroke="#ff0000" stroke-width="1.3"/>
<text x="355.60" y="670.90" fill="#ff0000" font-size="19.6"><tspan>OH</tspan></text>
<text x="370.50" y="702.80" fill="#ff0000" font-size="19.6"><tspan>Ar</tspan></text>
<text x="344.00" y="722.90" fill="#ff0000" font-size="19.6"><tspan>Ar</tspan></text>
<line x1="303.25" y1="646.10" x2="301.19" y2="674.01" stroke="#ff0000" stroke-width="1.1"/>
<line x1="278.55" y1="632.25" x2="303.25" y2="646.10" stroke="#ff0000" stroke-width="3.4"/>
<line x1="278.90" y1="637.90" x2="295.90" y2="648.50" stroke="#ff0000" stroke-width="1.3"/>
<line x1="278.55" y1="632.25" x2="278.55" y2="614.40" stroke="#ff0000" stroke-width="3.2"/>
<line x1="278.55" y1="632.25" x2="261.00" y2="642.00" stroke="#ff0000" stroke-width="3.4"/>
<line x1="303.25" y1="646.10" x2="318.70" y2="634.20" stroke="#000" stroke-width="1.1"/>
<text x="271.10" y="610.60" fill="#ff0000" font-size="19.6"><tspan>H</tspan></text>
<text x="223.60" y="652.50" fill="#ff0000" font-size="19.6"><tspan font-style="italic">t</tspan><tspan>-Bu</tspan></text>
<text x="319.10" y="637.00" fill="#0000ff" font-size="19.6"><tspan>Ts</tspan></text>
<text x="236.90" y="773.00" fill="#000" font-size="19.6"><tspan>60%, 91:9 </tspan><tspan font-style="italic">er</tspan></text>
<line x1="228.46" y1="698.30" x2="208.12" y2="691.65" stroke="#ff0000" stroke-width="1.3"/>
<text x="195.40" y="696.80" fill="#ff0000" font-size="19.6"><tspan>F</tspan></text>
<line x1="440.59" y1="679.34" x2="467.58" y2="688.16" stroke="#ff0000" stroke-width="1.3"/>
<line x1="441.93" y1="685.25" x2="463.02" y2="692.14" stroke="#ff0000" stroke-width="1.3"/>
<line x1="467.58" y1="688.16" x2="473.43" y2="715.94" stroke="#ff0000" stroke-width="1.3"/>
<line x1="473.43" y1="715.94" x2="452.30" y2="734.90" stroke="#ff0000" stroke-width="1.3"/>
<line x1="467.65" y1="714.14" x2="451.14" y2="728.96" stroke="#ff0000" stroke-width="1.3"/>
<line x1="452.30" y1="734.90" x2="425.32" y2="726.08" stroke="#ff0000" stroke-width="1.3"/>
<line x1="425.32" y1="726.08" x2="419.46" y2="698.30" stroke="#ff0000" stroke-width="1.3"/>
<line x1="429.77" y1="721.97" x2="425.19" y2="700.26" stroke="#ff0000" stroke-width="1.3"/>
<line x1="419.46" y1="698.30" x2="440.59" y2="679.34" stroke="#ff0000" stroke-width="1.3"/>
<line x1="467.58" y1="688.16" x2="492.19" y2="674.01" stroke="#f00" stroke-width="1.3"/>
<line x1="492.19" y1="674.01" x2="513.26" y2="693.04" stroke="#ff0000" stroke-width="3.4"/>
<line x1="491.01" y1="679.94" x2="507.47" y2="694.82" stroke="#f00" stroke-width="1.3"/>
<line x1="513.26" y1="693.04" x2="507.25" y2="708.10" stroke="#ff0000" stroke-width="3.2"/>
<line x1="473.43" y1="715.94" x2="492.30" y2="717.80" stroke="#ff0000" stroke-width="1.3"/>
<text x="494.30" y="725.80" fill="#ff0000" font-size="19.6"><tspan>NH</tspan></text>
<line x1="513.26" y1="693.04" x2="540.50" y2="688.10" stroke="#ff0000" stroke-width="1.3"/>
<line x1="540.50" y1="688.10" x2="549.60" y2="673.50" stroke="#ff0000" stroke-width="1.3"/>
<line x1="540.50" y1="688.10" x2="560.90" y2="693.75" stroke="#ff0000" stroke-width="1.3"/>
<line x1="540.50" y1="688.10" x2="540.50" y2="706.90" stroke="#ff0000" stroke-width="1.3"/>
<text x="546.60" y="670.90" fill="#ff0000" font-size="19.6"><tspan>OH</tspan></text>
<text x="561.50" y="702.80" fill="#ff0000" font-size="19.6"><tspan>Ar</tspan></text>
<text x="535.00" y="722.90" fill="#ff0000" font-size="19.6"><tspan>Ar</tspan></text>
<line x1="494.25" y1="646.10" x2="492.19" y2="674.01" stroke="#ff0000" stroke-width="1.1"/>
<line x1="469.55" y1="632.25" x2="494.25" y2="646.10" stroke="#ff0000" stroke-width="3.4"/>
<line x1="469.90" y1="637.90" x2="486.90" y2="648.50" stroke="#ff0000" stroke-width="1.3"/>
<line x1="469.55" y1="632.25" x2="469.55" y2="614.40" stroke="#ff0000" stroke-width="3.2"/>
<line x1="469.55" y1="632.25" x2="452.00" y2="642.00" stroke="#ff0000" stroke-width="3.4"/>
<line x1="494.25" y1="646.10" x2="509.70" y2="634.20" stroke="#000" stroke-width="1.1"/>
<text x="462.10" y="610.60" fill="#ff0000" font-size="19.6"><tspan>H</tspan></text>
<text x="414.60" y="652.50" fill="#ff0000" font-size="19.6"><tspan font-style="italic">t</tspan><tspan>-Bu</tspan></text>
<text x="509.70" y="637.00" fill="#0000ff" font-size="19.6"><tspan>SO</tspan><tspan font-size="14.3" dy="4.60">2</tspan><tspan dy="-4.60">Ph</tspan></text>
<text x="442.00" y="773.00" fill="#000" font-size="19.6"><tspan>72%, 87:13 </tspan><tspan font-style="italic">er</tspan></text>
<line x1="631.09" y1="679.34" x2="658.08" y2="688.16" stroke="#ff0000" stroke-width="1.3"/>
<line x1="632.43" y1="685.25" x2="653.52" y2="692.14" stroke="#ff0000" stroke-width="1.3"/>
<line x1="658.08" y1="688.16" x2="663.93" y2="715.94" stroke="#ff0000" stroke-width="1.3"/>
<line x1="663.93" y1="715.94" x2="642.80" y2="734.90" stroke="#ff0000" stroke-width="1.3"/>
<line x1="658.15" y1="714.14" x2="641.64" y2="728.96" stroke="#ff0000" stroke-width="1.3"/>
<line x1="642.80" y1="734.90" x2="615.82" y2="726.08" stroke="#ff0000" stroke-width="1.3"/>
<line x1="615.82" y1="726.08" x2="609.96" y2="698.30" stroke="#ff0000" stroke-width="1.3"/>
<line x1="620.27" y1="721.97" x2="615.69" y2="700.26" stroke="#ff0000" stroke-width="1.3"/>
<line x1="609.96" y1="698.30" x2="631.09" y2="679.34" stroke="#ff0000" stroke-width="1.3"/>
<line x1="658.08" y1="688.16" x2="682.69" y2="674.01" stroke="#f00" stroke-width="1.3"/>
<line x1="682.69" y1="674.01" x2="703.76" y2="693.04" stroke="#ff0000" stroke-width="3.4"/>
<line x1="681.51" y1="679.94" x2="697.97" y2="694.82" stroke="#f00" stroke-width="1.3"/>
<line x1="703.76" y1="693.04" x2="697.75" y2="708.10" stroke="#ff0000" stroke-width="3.2"/>
<line x1="663.93" y1="715.94" x2="682.80" y2="717.80" stroke="#ff0000" stroke-width="1.3"/>
<text x="684.80" y="725.80" fill="#ff0000" font-size="19.6"><tspan>NH</tspan></text>
<line x1="703.76" y1="693.04" x2="731.00" y2="688.10" stroke="#ff0000" stroke-width="1.3"/>
<line x1="731.00" y1="688.10" x2="740.10" y2="673.50" stroke="#ff0000" stroke-width="1.3"/>
<line x1="731.00" y1="688.10" x2="751.40" y2="693.75" stroke="#ff0000" stroke-width="1.3"/>
<line x1="731.00" y1="688.10" x2="731.00" y2="706.90" stroke="#ff0000" stroke-width="1.3"/>
<text x="737.10" y="670.90" fill="#ff0000" font-size="19.6"><tspan>OH</tspan></text>
<text x="752.00" y="702.80" fill="#ff0000" font-size="19.6"><tspan>Ar</tspan></text>
<text x="725.50" y="722.90" fill="#ff0000" font-size="19.6"><tspan>Ar</tspan></text>
<line x1="684.75" y1="646.10" x2="682.69" y2="674.01" stroke="#ff0000" stroke-width="1.1"/>
<line x1="660.05" y1="632.25" x2="684.75" y2="646.10" stroke="#ff0000" stroke-width="3.4"/>
<line x1="660.40" y1="637.90" x2="677.40" y2="648.50" stroke="#ff0000" stroke-width="1.3"/>
<line x1="660.05" y1="632.25" x2="660.05" y2="614.40" stroke="#ff0000" stroke-width="3.2"/>
<line x1="660.05" y1="632.25" x2="642.50" y2="642.00" stroke="#ff0000" stroke-width="3.4"/>
<line x1="684.75" y1="646.10" x2="700.20" y2="634.20" stroke="#000" stroke-width="1.1"/>
<text x="652.60" y="610.60" fill="#ff0000" font-size="19.6"><tspan>H</tspan></text>
<text x="605.10" y="652.50" fill="#ff0000" font-size="19.6"><tspan font-style="italic">t</tspan><tspan>-Bu</tspan></text>
<text x="700.20" y="637.00" fill="#0000ff" font-size="19.6"><tspan>SO</tspan><tspan font-size="14.3" dy="4.60">2</tspan><tspan dy="-4.60">Et</tspan></text>
<text x="632.95" y="773.00" fill="#000" font-size="19.6"><tspan>86%, 84:16 </tspan><tspan font-style="italic">er</tspan></text>
<rect x="27.06" y="126.40" width="2.86" height="2.05" fill="#fff"/>
<rect x="31.85" y="126.40" width="2.72" height="2.05" fill="#fff"/>
<rect x="271.39" y="136.40" width="2.86" height="2.05" fill="#fff"/>
<rect x="276.18" y="136.40" width="2.72" height="2.05" fill="#fff"/>
<rect x="299.38" y="181.44" width="3.92" height="3.01" fill="#fff"/>
<rect x="305.84" y="181.44" width="3.82" height="3.01" fill="#fff"/>
<rect x="482.14" y="138.03" width="3.92" height="2.42" fill="#fff"/>
<rect x="488.71" y="138.03" width="3.72" height="2.42" fill="#fff"/>
<rect x="615.56" y="141.40" width="2.86" height="2.05" fill="#fff"/>
<rect x="620.35" y="141.40" width="2.72" height="2.05" fill="#fff"/>
<rect x="39.46" y="408.40" width="2.86" height="2.05" fill="#fff"/>
<rect x="44.25" y="408.40" width="2.72" height="2.05" fill="#fff"/>
<rect x="355.08" y="394.44" width="3.92" height="3.01" fill="#fff"/>
<rect x="361.54" y="394.44" width="3.82" height="3.01" fill="#fff"/>
<rect x="459.16" y="408.40" width="2.86" height="2.05" fill="#fff"/>
<rect x="463.95" y="408.40" width="2.72" height="2.05" fill="#fff"/>
<rect x="724.79" y="342.40" width="2.86" height="2.05" fill="#fff"/>
<rect x="729.58" y="342.40" width="2.72" height="2.05" fill="#fff"/>
<rect x="710.28" y="417.44" width="3.92" height="3.01" fill="#fff"/>
<rect x="716.74" y="417.44" width="3.82" height="3.01" fill="#fff"/>
<rect x="579.49" y="270.40" width="2.86" height="2.05" fill="#fff"/>
<rect x="584.28" y="270.40" width="2.72" height="2.05" fill="#fff"/>
<rect x="298.59" y="771.03" width="3.92" height="2.42" fill="#fff"/>
<rect x="305.15" y="771.03" width="3.72" height="2.42" fill="#fff"/>
<rect x="520.01" y="771.03" width="3.92" height="2.42" fill="#fff"/>
<rect x="526.58" y="771.03" width="3.72" height="2.42" fill="#fff"/>
<rect x="710.96" y="771.03" width="3.92" height="2.42" fill="#fff"/>
<rect x="717.53" y="771.03" width="3.72" height="2.42" fill="#fff"/>
</g></svg>
</body></html>
